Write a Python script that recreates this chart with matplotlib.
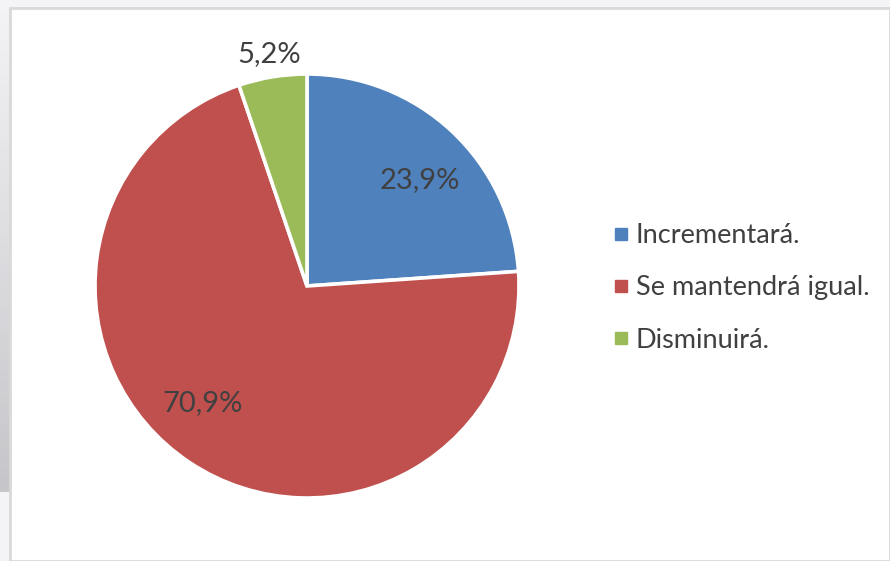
import numpy as np
import matplotlib
matplotlib.use("Agg")
import matplotlib.pyplot as plt
from matplotlib.lines import Line2D
from matplotlib.colors import LinearSegmentedColormap

categories = ["Incrementará.", "Se mantendrá igual.", "Disminuirá."]
values = [23.9, 70.9, 5.2]
colors = ["#4f81bd", "#c0504d", "#9bbb59"]

plt.rcParams['font.family'] = ['Lato', 'DejaVu Sans']
text_color = "#404040"

fig = plt.figure(figsize=(8.9, 5.61), dpi=100)
fig.patch.set_facecolor("#f4f3f6")

# left gradient strip (background shadow)
gax = fig.add_axes([0, (561 - 492) / 561, 10 / 890, 484 / 561])
gax.set_zorder(0)
cmap = LinearSegmentedColormap.from_list("g", ["#f3f2f5", "#c6c5c9"])
gax.imshow(np.linspace(0, 1, 100).reshape(-1, 1), aspect="auto", cmap=cmap)
gax.axis("off")

# chart area frame
frame_ax = fig.add_axes([10 / 890, 0, 1 - 10 / 890, (561 - 8) / 561])
frame_ax.set_zorder(1)
frame_ax.set_facecolor("white")
frame_ax.set_xticks([])
frame_ax.set_yticks([])
for s in frame_ax.spines.values():
    s.set_color("#d9d9d9")
    s.set_linewidth(2)

ax = fig.add_axes([95 / 890, (561 - 498) / 561, 424 / 890, 424 / 561])
ax.set_zorder(2)

def fmt(p):
    return f"{p:.1f}".replace(".", ",") + "%"

# label placement (best-fit style): radius factor and angular shift per slice
label_radius = [0.73, 0.74, 1.11]
label_shift_deg = [-4, -8, 0]

wedges, texts = ax.pie(values, colors=colors, startangle=90, counterclock=False,
                       wedgeprops=dict(edgecolor="white", linewidth=2.6),
                       labels=[fmt(v) for v in values], labeldistance=0.73,
                       textprops=dict(fontsize=21, color=text_color))
for t, w, r, sh in zip(texts, wedges, label_radius, label_shift_deg):
    ang = np.deg2rad((w.theta1 + w.theta2) / 2 + sh)
    t.set_position((r * np.cos(ang), r * np.sin(ang)))
    t.set_ha("center")
    t.set_va("center")
ax.set_aspect("equal")
ax.set_xlim(-1, 1)
ax.set_ylim(-1, 1)

handles = [Line2D([0], [0], marker="s", linestyle="none", markersize=8.5,
                  markerfacecolor=c, markeredgecolor=c) for c in colors]
leg = fig.legend(handles, categories, loc="center left",
                 bbox_to_anchor=(599 / 890, (561 - 288) / 561),
                 frameon=False, fontsize=19.5, labelspacing=1.0,
                 handlelength=0.6, handletextpad=0.25, borderpad=0)
leg.set_zorder(3)
for t in leg.get_texts():
    t.set_color(text_color)

fig.savefig("out.png", dpi=100, facecolor=fig.get_facecolor())
